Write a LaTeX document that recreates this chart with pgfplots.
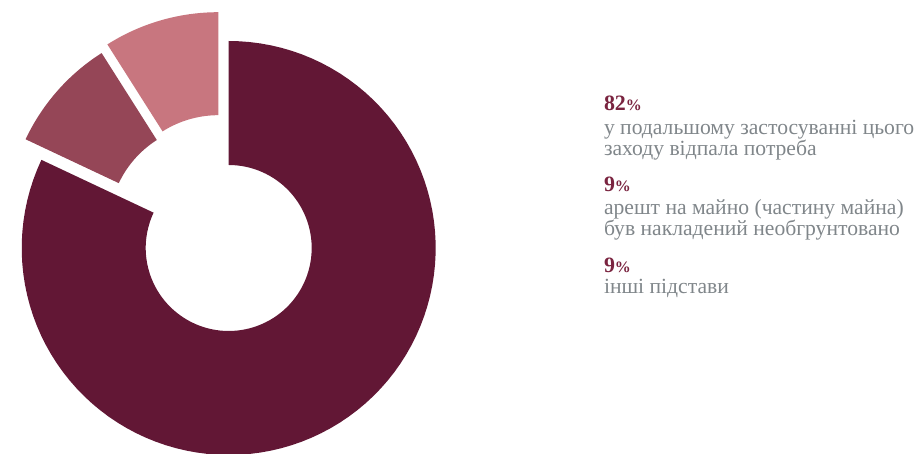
\documentclass[border=0pt]{standalone}
\usepackage{fontspec}
\setmainfont{Liberation Serif}
\usepackage{pgfplots}
\usepackage{pgfplotstable}
\pgfplotsset{compat=1.18}
\definecolor{c1}{HTML}{621735}
\definecolor{c2}{HTML}{954657}
\definecolor{c3}{HTML}{C8767F}
\definecolor{pct}{HTML}{7A2440}
\definecolor{txt}{HTML}{80868A}

% share (%), centre of the slice (x,y), inner radius, outer radius
\pgfplotstableread{
pct cx cy rin rout
82 228.7 206 83 207
9 212 227 103 206
9 218.3 234.8 104 207
}\slices

\newcommand\getslice[2]{%
  \pgfplotstablegetelem{#1}{pct}\of\slices \expandafter\edef\csname p#2\endcsname{\pgfplotsretval}%
  \pgfplotstablegetelem{#1}{cx}\of\slices \expandafter\edef\csname cx#2\endcsname{\pgfplotsretval}%
  \pgfplotstablegetelem{#1}{cy}\of\slices \expandafter\edef\csname cy#2\endcsname{\pgfplotsretval}%
  \pgfplotstablegetelem{#1}{rin}\of\slices \expandafter\edef\csname ri#2\endcsname{\pgfplotsretval}%
  \pgfplotstablegetelem{#1}{rout}\of\slices \expandafter\edef\csname ro#2\endcsname{\pgfplotsretval}%
}
\getslice{0}{A}
\getslice{1}{B}
\getslice{2}{C}
\pgfmathsetmacro\aA{90}
\pgfmathsetmacro\aB{\aA-3.6*\pA}
\pgfmathsetmacro\aC{\aB-3.6*\pB}
\pgfmathsetmacro\aD{\aC-3.6*\pC}

% ring sector: colour, start angle, end angle, cx, cy, r, R
\newcommand\ringsector[7]{%
  \addplot[fill=#1, draw=none, domain=0:3, samples=301]
  ({#4 + (#7 - (#7-#6)*min(max(x-1,0),1))*cos(#2 + (#3-#2)*min(x,1) - (#3-#2)*max(x-2,0))},
   {#5 + (#7 - (#7-#6)*min(max(x-1,0),1))*sin(#2 + (#3-#2)*min(x,1) - (#3-#2)*max(x-2,0))});
}

\newcommand\pctfont{\bfseries\fontsize{22}{26}\selectfont}
\newcommand\pctsign{{\fontsize{16}{18}\selectfont\%}}
\newcommand\txtfont{\fontsize{21.7}{25}\selectfont}

\begin{document}
\begin{tikzpicture}
\begin{axis}[
  width=918bp, height=454bp, scale only axis,
  xmin=0, xmax=918, ymin=0, ymax=454,
  hide axis, clip=true,
]
\path (axis cs:0,0) rectangle (axis cs:918,454);
\ringsector{c1}{\aA}{\aB}{\cxA}{\cyA}{\riA}{\roA}
\ringsector{c2}{\aB}{\aC}{\cxB}{\cyB}{\riB}{\roB}
\ringsector{c3}{\aC}{\aD}{\cxC}{\cyC}{\riC}{\roC}

\begin{scope}[every node/.style={anchor=base west, inner sep=0pt, outer sep=0pt}]
\node[text=pct, font=\pctfont] at (axis cs:604,343) {82\pctsign};
\node[text=txt, font=\txtfont] at (axis cs:604,319) {у подальшому застосуванні цього};
\node[text=txt, font=\txtfont] at (axis cs:604,298) {заходу відпала потреба};
\node[text=pct, font=\pctfont] at (axis cs:604,262.3) {9\pctsign};
\node[text=txt, font=\txtfont] at (axis cs:604,239) {арешт на майно (частину майна)};
\node[text=txt, font=\txtfont] at (axis cs:604,218.3) {був накладений необгрунтовано};
\node[text=pct, font=\pctfont] at (axis cs:604,181.7) {9\pctsign};
\node[text=txt, font=\txtfont] at (axis cs:604,160.7) {інші підстави};
\end{scope}
\end{axis}
\end{tikzpicture}
\end{document}
